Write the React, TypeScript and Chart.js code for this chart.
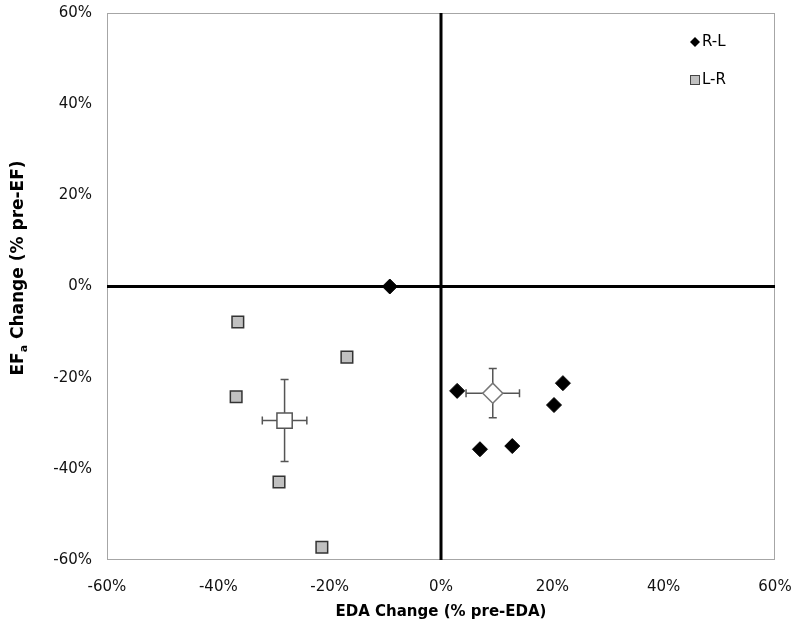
import React, { useEffect, useRef } from 'react';
import { Chart, registerables } from 'chart.js';
Chart.register(...registerables);

// R-L individual points (EDA change %, EFa change %)
const rlX = [-9.2, 2.9, 7.0, 12.8, 20.3, 21.9];
const rlY = [0, -22.9, -35.7, -35.0, -26.0, -21.2];
// L-R individual points
const lrX = [-36.5, -16.9, -36.8, -29.1, -21.4];
const lrY = [-7.8, -15.5, -24.2, -42.9, -57.2];
// group means [R-L, L-R] with error bars
const meanX = [9.3, -28.1];
const meanY = [-23.4, -29.4];
const errX = [4.8, 4.0];
const errY = [5.4, 9.0];
const tickValues = [-60, -40, -20, 0, 20, 40, 60];
const seriesNames = ['R-L', 'L-R'];
const xTitle = 'EDA Change (% pre-EDA)';
const yTitleMain = 'EF';
const yTitleSub = 'a';
const yTitleRest = ' Change (% pre-EF)';

const X_TITLE_FONT = 'bold 15px "DejaVu Sans", sans-serif';
const Y_TITLE_FONT = 'bold 17px "DejaVu Sans", sans-serif';
const SUB_FONT = 'bold 11px "DejaVu Sans", sans-serif';

const decorPlugin = {
  id: 'decor',
  beforeDatasetsDraw(chart: any) {
    const { ctx, chartArea: a, scales } = chart;
    const x = scales.x, y = scales.y;
    ctx.save();
    // box
    ctx.strokeStyle = '#a6a6a6';
    ctx.lineWidth = 1;
    ctx.strokeRect(a.left + 0.5, a.top + 0.5, a.right - a.left - 1, a.bottom - a.top - 1);
    // zero lines
    ctx.strokeStyle = '#000';
    ctx.lineWidth = 3;
    const x0 = x.getPixelForValue(0);
    const y0 = y.getPixelForValue(0);
    ctx.beginPath();
    ctx.moveTo(x0, a.top);
    ctx.lineTo(x0, a.bottom);
    ctx.moveTo(a.left, y0);
    ctx.lineTo(a.right, y0);
    ctx.stroke();
    // error bars
    ctx.strokeStyle = '#555';
    ctx.lineWidth = 1.5;
    const cap = 4;
    for (let i = 0; i < meanX.length; i++) {
      const cx = x.getPixelForValue(meanX[i]);
      const cy = y.getPixelForValue(meanY[i]);
      const xl = x.getPixelForValue(meanX[i] - errX[i]);
      const xr = x.getPixelForValue(meanX[i] + errX[i]);
      const yt = y.getPixelForValue(meanY[i] + errY[i]);
      const yb = y.getPixelForValue(meanY[i] - errY[i]);
      ctx.beginPath();
      ctx.moveTo(xl, cy); ctx.lineTo(xr, cy);
      ctx.moveTo(xl, cy - cap); ctx.lineTo(xl, cy + cap);
      ctx.moveTo(xr, cy - cap); ctx.lineTo(xr, cy + cap);
      ctx.moveTo(cx, yt); ctx.lineTo(cx, yb);
      ctx.moveTo(cx - cap, yt); ctx.lineTo(cx + cap, yt);
      ctx.moveTo(cx - cap, yb); ctx.lineTo(cx + cap, yb);
      ctx.stroke();
    }
    ctx.restore();
  },
  afterDraw(chart: any) {
    const { ctx, chartArea: a } = chart;
    ctx.save();
    ctx.fillStyle = '#000';
    // x title
    ctx.font = X_TITLE_FONT;
    ctx.textAlign = 'center';
    ctx.textBaseline = 'middle';
    ctx.fillText(xTitle, (a.left + a.right) / 2, 612);
    // y title with subscript
    ctx.translate(19, 268);
    ctx.rotate(-Math.PI / 2);
    ctx.textAlign = 'left';
    ctx.textBaseline = 'middle';
    ctx.font = Y_TITLE_FONT;
    const w1 = ctx.measureText(yTitleMain).width;
    const w3 = ctx.measureText(yTitleRest).width;
    ctx.font = SUB_FONT;
    const w2 = ctx.measureText(yTitleSub).width;
    let sx = -(w1 + w2 + w3) / 2;
    ctx.font = Y_TITLE_FONT;
    ctx.fillText(yTitleMain, sx, 0);
    sx += w1;
    ctx.font = SUB_FONT;
    ctx.fillText(yTitleSub, sx, 5);
    sx += w2;
    ctx.font = Y_TITLE_FONT;
    ctx.fillText(yTitleRest, sx, 0);
    ctx.restore();

    // legend
    ctx.save();
    ctx.font = '15px "DejaVu Sans", sans-serif';
    ctx.textBaseline = 'middle';
    ctx.textAlign = 'left';
    ctx.fillStyle = '#000';
    // diamond
    const dx = 695, dy = 42, r = 5;
    ctx.beginPath();
    ctx.moveTo(dx, dy - r); ctx.lineTo(dx + r, dy); ctx.lineTo(dx, dy + r); ctx.lineTo(dx - r, dy);
    ctx.closePath();
    ctx.fill();
    ctx.fillText(seriesNames[0], 702, dy);
    // square
    const sqx = 695, sqy = 80, s = 9;
    ctx.fillStyle = '#c0c0c0';
    ctx.fillRect(sqx - s / 2, sqy - s / 2, s, s);
    ctx.strokeStyle = '#444';
    ctx.lineWidth = 1;
    ctx.strokeRect(sqx - s / 2, sqy - s / 2, s, s);
    ctx.fillStyle = '#000';
    ctx.fillText(seriesNames[1], 702, sqy);
    ctx.restore();
  },
};

export default function App() {
  const ref = useRef<HTMLCanvasElement | null>(null);
  useEffect(() => {
    document.body.style.margin = '0';
    const canvas = ref.current;
    if (!canvas) return;
    const chart = new Chart(canvas, {
      type: 'scatter',
      data: {
        datasets: [
          {
            label: seriesNames[0],
            data: rlX.map((v, i) => ({ x: v, y: rlY[i] })),
            pointStyle: 'rectRot',
            radius: 7.5,
            backgroundColor: '#000',
            borderColor: '#000',
            borderWidth: 1,
          },
          {
            label: seriesNames[1],
            data: lrX.map((v, i) => ({ x: v, y: lrY[i] })),
            pointStyle: 'rect',
            radius: 8.2,
            backgroundColor: '#c0c0c0',
            borderColor: '#333',
            borderWidth: 1.5,
          },
          {
            label: 'R-L mean',
            data: [{ x: meanX[0], y: meanY[0] }],
            pointStyle: 'rectRot',
            radius: 10,
            backgroundColor: '#fff',
            borderColor: '#777',
            borderWidth: 1.5,
          },
          {
            label: 'L-R mean',
            data: [{ x: meanX[1], y: meanY[1] }],
            pointStyle: 'rect',
            radius: 10.8,
            backgroundColor: '#fff',
            borderColor: '#555',
            borderWidth: 1.5,
          },
        ],
      },
      options: {
        responsive: false,
        animation: false,
        layout: { padding: { left: 0, right: 25, top: 13, bottom: 0 } },
        plugins: { legend: { display: false }, tooltip: { enabled: false } },
        scales: {
          x: {
            type: 'linear',
            min: -60,
            max: 60,
            afterBuildTicks: (s: any) => { s.ticks = tickValues.map((v) => ({ value: v })); },
            afterFit: (s: any) => {
              s.height = 73;
              s.paddingLeft = 0; s.paddingRight = 0; s.paddingTop = 0; s.paddingBottom = 0;
            },
            grid: { display: false, drawTicks: false },
            border: { display: false },
            ticks: {
              padding: 18,
              color: '#111',
              font: { family: '"DejaVu Sans", sans-serif', size: 15 },
              callback: (v: any) => v + '%',
            },
          },
          y: {
            type: 'linear',
            min: -60,
            max: 60,
            afterBuildTicks: (s: any) => { s.ticks = tickValues.map((v) => ({ value: v })); },
            afterFit: (s: any) => {
              s.width = 107;
              s.paddingLeft = 0; s.paddingRight = 0; s.paddingTop = 0; s.paddingBottom = 0;
            },
            grid: { display: false, drawTicks: false },
            border: { display: false },
            ticks: {
              padding: 15,
              color: '#111',
              font: { family: '"DejaVu Sans", sans-serif', size: 15 },
              callback: (v: any) => v + '%',
            },
          },
        },
      },
      plugins: [decorPlugin],
    });
    return () => chart.destroy();
  }, []);
  return <canvas ref={ref} width={800} height={633} style={{ display: 'block' }} />;
}
